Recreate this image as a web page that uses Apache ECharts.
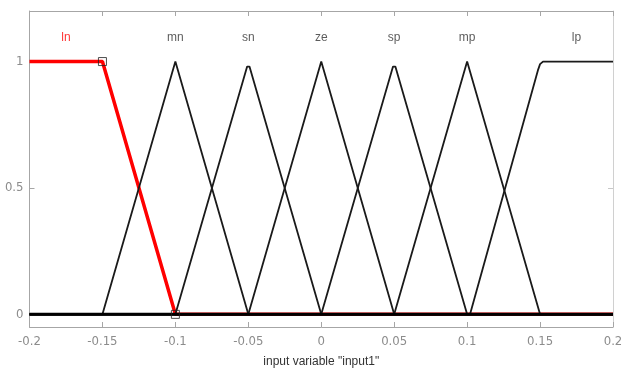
<!DOCTYPE html>
<html>
<head>
<meta charset="utf-8">
<script src="https://cdn.jsdelivr.net/npm/echarts@6/dist/echarts.min.js"></script>
<style>
html,body{margin:0;padding:0;background:#fff;}
#c{width:622px;height:371px;}
</style>
</head>
<body>
<div id="c"></div>
<script>
// Universe of discourse and axis ticks
const xRange = [-0.2, 0.2];
const xTickStep = 0.05;
const yTicks = [0, 0.5, 1];

// Membership functions (x, y vertices)
const lnX = [-0.2, -0.15, -0.1, 0.2];
const lnY = [1, 1, 0, 0];
const mnX = [-0.2, -0.15, -0.1, -0.05, 0.2];
const mnY = [0, 0, 1, 0, 0];
const snX = [-0.2, -0.1, -0.0508, -0.0492, 0, 0.2];
const snY = [0, 0, 0.98, 0.98, 0, 0];
const zeX = [-0.2, -0.05, 0, 0.05, 0.2];
const zeY = [0, 0, 1, 0, 0];
const spX = [-0.2, 0, 0.0492, 0.0508, 0.1, 0.2];
const spY = [0, 0, 0.98, 0.98, 0, 0];
const mpX = [-0.2, 0.05, 0.1, 0.15, 0.2];
const mpY = [0, 0, 1, 0, 0];
const lpX = [-0.2, 0.102, 0.1485, 0.1500, 0.1520, 0.2];
const lpY = [0, 0, 0.965, 0.99, 1, 1];

// Selected vertices of "ln" (square handles)
const handleX = [-0.15, -0.1];
const handleY = [1, 0];

// MF names and label positions
const mfNames = ['ln', 'mn', 'sn', 'ze', 'sp', 'mp', 'lp'];
const labelX = [-0.175, -0.1, -0.05, 0, 0.05, 0.1, 0.175];
const labelY = [1.095, 1.095, 1.095, 1.095, 1.095, 1.095, 1.095];

const zip = (xs, ys) => xs.map((x, i) => [x, ys[i]]);
const TICKFONT = "'DejaVu Sans Condensed', 'Liberation Sans', sans-serif";
const TEXTFONT = "'Liberation Sans', Arial, sans-serif";

const blackMFs = [[mnX, mnY], [snX, snY], [zeX, zeY], [spX, spY], [mpX, mpY], [lpX, lpY]];

const series = [];
series.push({
  type: 'line', data: zip(lnX, lnY), showSymbol: false, z: 2,
  lineStyle: { color: '#ff0000', width: 3.5 }, animation: false
});
blackMFs.forEach(([xs, ys]) => {
  series.push({
    type: 'line', data: zip(xs, ys), showSymbol: false, z: 3,
    lineStyle: { color: '#1a1a1a', width: 1.8 }, animation: false
  });
});
// baseline (zero membership across universe)
series.push({
  type: 'line', data: zip(xRange, [0, 0]), showSymbol: false, z: 4,
  lineStyle: { color: '#000', width: 3 }, animation: false
});
// handles
series.push({
  type: 'scatter', data: zip(handleX, handleY), symbol: 'rect', symbolSize: 8, z: 5,
  itemStyle: { color: 'rgba(0,0,0,0)', borderColor: '#222', borderWidth: 1 }, animation: false
});
// labels
series.push({
  type: 'scatter', symbolSize: 0, z: 6, animation: false,
  data: mfNames.map((n, i) => ({
    value: [labelX[i], labelY[i]], name: n,
    label: { color: i === 0 ? '#ff0000' : '#333' }
  })),
  label: {
    show: true, position: 'inside', formatter: p => p.name,
    fontFamily: TEXTFONT, fontSize: 12
  }
});

const gray = '#a6a6a6';
const chart = echarts.init(document.getElementById('c'));
chart.setOption({
  backgroundColor: '#fff',
  animation: false,
  grid: { left: 29.5, right: 9, top: 11, bottom: 44, containLabel: false, outerBoundsMode: 'none' },
  xAxis: [{
    type: 'value', position: 'bottom', min: xRange[0], max: xRange[1], interval: xTickStep,
    axisLine: { show: true, onZero: false, lineStyle: { color: gray, width: 1 } },
    axisTick: { show: true, inside: true, length: 5, lineStyle: { color: gray } },
    axisLabel: { color: '#8c8c8c', fontFamily: TICKFONT, fontSize: 13, margin: 8,
      formatter: v => String(Math.round(v * 100) / 100) },
    splitLine: { show: false },
    name: 'input variable "input1"', nameLocation: 'middle', nameGap: 29,
    nameTextStyle: { color: '#333', fontFamily: TEXTFONT, fontSize: 12 }
  }, {
    type: 'value', position: 'top', min: xRange[0], max: xRange[1], interval: xTickStep,
    axisLine: { show: true, onZero: false, lineStyle: { color: gray, width: 1 } },
    axisTick: { show: true, inside: true, length: 5, lineStyle: { color: gray } },
    axisLabel: { show: false }, splitLine: { show: false }
  }],
  yAxis: [{
    type: 'value', position: 'left', min: -0.05, max: 1.2,
    axisLine: { show: true, onZero: false, lineStyle: { color: gray, width: 1 } },
    axisTick: { show: true, inside: true, length: 5, customValues: yTicks, lineStyle: { color: gray } },
    axisLabel: { color: '#8c8c8c', fontFamily: TICKFONT, fontSize: 13, margin: 6, customValues: yTicks },
    splitLine: { show: false }
  }, {
    type: 'value', position: 'right', min: -0.05, max: 1.2,
    axisLine: { show: true, onZero: false, lineStyle: { color: '#d0d0d0', width: 1 } },
    axisTick: { show: true, inside: true, length: 5, customValues: yTicks, lineStyle: { color: '#c8c8c8' } },
    axisLabel: { show: false }, splitLine: { show: false }
  }],
  series: series
});
</script>
</body>
</html>
